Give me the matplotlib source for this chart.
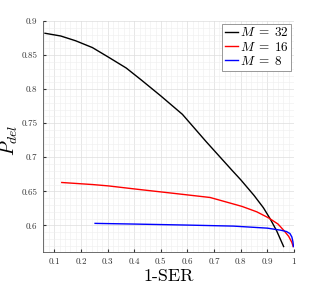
import numpy as np
import matplotlib
matplotlib.use("Agg")
from matplotlib import pyplot as plt
from matplotlib.ticker import MultipleLocator

plt.rcParams['font.family'] = ['cmr10', 'DejaVu Serif']
plt.rcParams['mathtext.fontset'] = 'cm'
plt.rcParams['axes.formatter.use_mathtext'] = True

# M = 32
x32 = [0.065, 0.124, 0.18, 0.243, 0.303, 0.37, 0.428, 0.50, 0.581, 0.67, 0.767, 0.80, 0.85, 0.885, 0.91, 0.935, 0.961]
y32 = [0.882, 0.878, 0.871, 0.861, 0.847, 0.831, 0.813, 0.790, 0.763, 0.723, 0.681, 0.667, 0.644, 0.626, 0.610, 0.592, 0.569]
# M = 16
x16 = [0.128, 0.243, 0.303, 0.413, 0.55, 0.685, 0.804, 0.86, 0.905, 0.94, 0.961, 0.98, 0.992, 0.997]
y16 = [0.663, 0.660, 0.658, 0.653, 0.647, 0.641, 0.628, 0.620, 0.611, 0.602, 0.593, 0.584, 0.575, 0.569]
# M = 8
x8 = [0.253, 0.4, 0.6, 0.773, 0.9, 0.95, 0.972, 0.985, 0.992, 0.996, 0.998]
y8 = [0.603, 0.602, 0.6005, 0.599, 0.596, 0.593, 0.591, 0.588, 0.583, 0.576, 0.569]

fig = plt.figure(figsize=(3.24, 2.84), dpi=100)
ax = fig.add_axes([43 / 324, 1 - 252 / 284, (294 - 43) / 324, (252 - 21) / 284])

ax.plot(x32, y32, color='black', lw=1.0, label=r'$M\;=\;32$')
ax.plot(x16, y16, color='red', lw=1.0, label=r'$M\;=\;16$')
ax.plot(x8, y8, color='blue', lw=1.0, label=r'$M\;=\;8$')

ax.set_xlim(0.0575, 1.0)
ax.set_ylim(0.561, 0.9)
ax.xaxis.set_minor_locator(MultipleLocator(0.02))
ax.yaxis.set_minor_locator(MultipleLocator(0.01))
ax.set_xticks(np.arange(0.1, 1.01, 0.1))
ax.set_xticklabels(['0.1', '0.2', '0.3', '0.4', '0.5', '0.6', '0.7', '0.8', '0.9', '1'])
ax.set_yticks(np.arange(0.6, 0.901, 0.05))
ax.set_yticklabels(['0.6', '0.65', '0.7', '0.75', '0.8', '0.85', '0.9'])

ax.grid(which='major', color='#dddddd', lw=0.5)
ax.grid(which='minor', color='#eeeeee', lw=0.4)
ax.set_axisbelow(True)
ax.tick_params(which='both', direction='in', labelsize=6.5, colors='#333333', length=2, pad=4)
ax.tick_params(which='minor', length=0)
for s in ['top', 'right']:
    ax.spines[s].set_visible(False)
for s in ['left', 'bottom']:
    ax.spines[s].set_color('#555555')
    ax.spines[s].set_linewidth(0.6)

ax.set_xlabel('1-SER', fontsize=13, labelpad=2)
ax.set_ylabel('$P_{del}$', fontsize=14)
ax.yaxis.set_label_coords(-0.09, 0.485)

leg = ax.legend(loc='upper right', fontsize=9.5, handlelength=1.0, handletextpad=0.15,
                borderpad=0.2, labelspacing=0.1, fancybox=False, framealpha=1,
                borderaxespad=0.2)
leg.get_frame().set_edgecolor('#888888')
leg.get_frame().set_linewidth(0.6)

fig.savefig('out.png', dpi=100)
